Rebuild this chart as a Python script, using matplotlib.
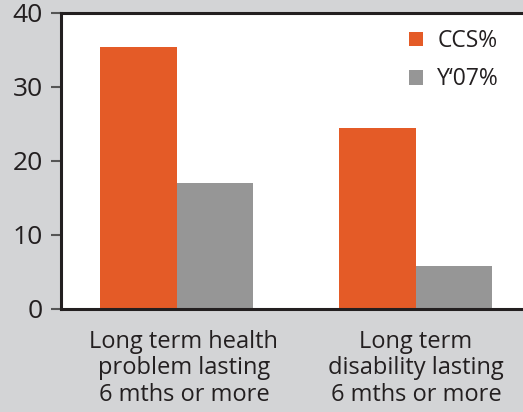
import matplotlib
matplotlib.use("Agg")
import matplotlib.pyplot as plt
import matplotlib.transforms as mtransforms
import numpy as np

plt.rcParams['font.family'] = ['Open Sans', 'DejaVu Sans']

categories = ["Long term health\nproblem lasting\n6 mths or more",
              "Long term\ndisability lasting\n6 mths or more"]
series_names = ["CCS%", "Y\u201807%"]
ccs_values = [35.4, 24.4]
y07_values = [17.0, 5.8]
y_ticks = [0, 10, 20, 30, 40]

bg = "#d3d4d6"
orange = "#e45b27"
grey = "#969696"
dark = "#231f20"

fig = plt.figure(figsize=(5.23, 4.12), dpi=100, facecolor=bg)
ax = fig.add_axes([61/523, 1 - 309/412, 1 - 61/523, (309 - 13)/412])
ax.set_facecolor("white")

x = np.arange(len(categories))
w = 0.32
ax.bar(x - w/2, ccs_values, w, color=orange, label=series_names[0], zorder=2)
ax.bar(x + w/2, y07_values, w, color=grey, label=series_names[1], zorder=2)

ax.set_xlim(-0.485, 1.448)
ax.set_ylim(0, 40)
ax.set_yticks(y_ticks)
ax.set_yticklabels([str(t) for t in y_ticks], fontsize=19, color=dark)
ax.set_xticks(x)
ax.set_xticklabels(categories, fontsize=17, color=dark, linespacing=1.14)
ax.tick_params(axis='x', length=0, pad=15)
ax.tick_params(axis='y', length=7, width=1.5, color="#555555", pad=6)

# nudge the first category label slightly to the right
first = ax.get_xticklabels()[0]
first.set_transform(first.get_transform() +
                    mtransforms.ScaledTranslation(7/100, 0, fig.dpi_scale_trans))

for side in ["left", "bottom", "top"]:
    ax.spines[side].set_color(dark)
    ax.spines[side].set_linewidth(2.2)
ax.spines["right"].set_visible(False)

leg = ax.legend(loc="upper right", frameon=False,
                fontsize=16.5, handlelength=0.62, handleheight=0.62,
                handletextpad=0.6, labelspacing=0.62, borderaxespad=0.3)
leg.set_bbox_to_anchor((1 - 8/462, 1.0), transform=ax.transAxes)
for t in leg.get_texts():
    t.set_color(dark)

fig.savefig("out.png", dpi=100, facecolor=bg)
